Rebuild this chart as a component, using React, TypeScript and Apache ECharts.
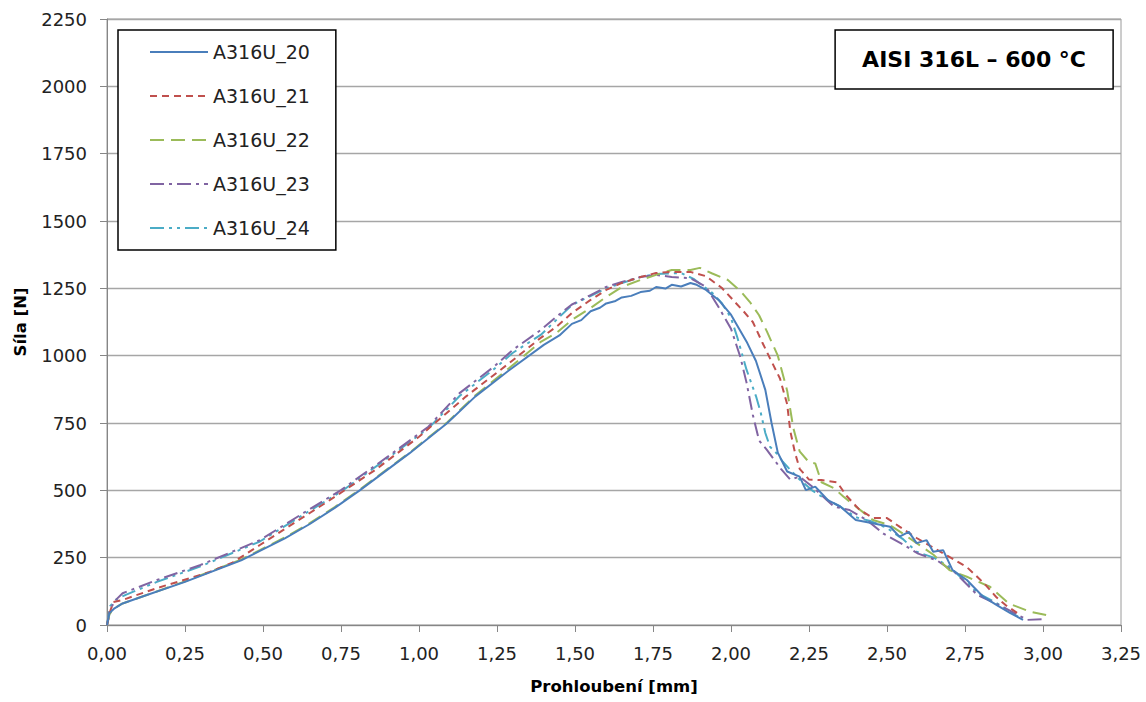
import React, { useEffect, useRef } from "react";
import * as echarts from "echarts";

const seriesNames = ["A316U_20", "A316U_21", "A316U_22", "A316U_23", "A316U_24"];
const seriesColors = ["#4A7EBB", "#C0504D", "#9BBB59", "#8064A2", "#4BACC6"];

const xTicks = { min: 0, max: 3.25, interval: 0.25 };
const yTicks = { min: 0, max: 2250, interval: 250 };

const a20: [number, number][] = [
  [0, 0], [0.008, 44], [0.024, 62], [0.05, 80], [0.1, 100], [0.25, 160], [0.43, 240], [0.49, 275],
  [0.57, 322], [0.65, 375], [0.73, 435], [0.81, 500], [0.97, 638], [1.09, 749], [1.18, 848], [1.29, 947], [1.4, 1040],
  [1.45, 1075], [1.49, 1118], [1.52, 1132], [1.55, 1165], [1.58, 1178], [1.6, 1194], [1.63, 1203],
  [1.65, 1216], [1.68, 1222], [1.71, 1236], [1.74, 1241], [1.76, 1255], [1.79, 1249], [1.81, 1263],
  [1.84, 1257], [1.87, 1270], [1.89, 1263], [1.92, 1244], [1.96, 1207], [2.0, 1152], [2.05, 1052],
  [2.08, 980], [2.11, 873], [2.13, 750], [2.15, 640], [2.18, 570], [2.22, 551], [2.24, 501],
  [2.27, 514], [2.31, 464], [2.35, 440], [2.4, 390], [2.45, 379], [2.51, 365], [2.54, 328],
  [2.57, 346], [2.595, 304], [2.627, 315], [2.648, 272], [2.68, 278], [2.71, 204], [2.756, 167],
  [2.808, 105], [2.852, 74], [2.894, 45], [2.936, 19],
];

const a21: [number, number][] = [
  [0, 0], [0.01, 50], [0.02, 85], [0.05, 93], [0.16, 137], [0.32, 193], [0.4, 230], [0.49, 297],
  [0.7, 453], [0.86, 576], [1.0, 699], [1.15, 848], [1.29, 973], [1.39, 1066], [1.44, 1107],
  [1.49, 1158], [1.55, 1207], [1.6, 1244], [1.65, 1270], [1.71, 1292], [1.76, 1307], [1.81, 1311],
  [1.87, 1311], [1.92, 1295], [1.97, 1252], [2.0, 1215], [2.04, 1165], [2.07, 1125], [2.1, 1050],
  [2.125, 990], [2.157, 915], [2.18, 820], [2.19, 720], [2.205, 640], [2.22, 580], [2.25, 540],
  [2.29, 538], [2.34, 530], [2.37, 480], [2.41, 430], [2.455, 397], [2.5, 397], [2.54, 365],
  [2.595, 323], [2.65, 286], [2.7, 253], [2.756, 215], [2.81, 156], [2.85, 104], [2.88, 74],
  [2.93, 35],
];

const a22: [number, number][] = [
  [0, 0], [0.008, 40], [0.024, 62], [0.05, 80], [0.1, 100], [0.25, 162], [0.43, 243], [0.49, 278],
  [0.57, 325], [0.65, 378], [0.73, 438], [0.81, 503], [0.97, 640], [1.09, 752], [1.18, 852], [1.29, 955], [1.39, 1051],
  [1.44, 1084], [1.49, 1133], [1.55, 1177], [1.6, 1218], [1.65, 1255], [1.71, 1281], [1.76, 1300],
  [1.81, 1318], [1.87, 1318], [1.9, 1326], [1.94, 1305], [1.99, 1281], [2.03, 1240], [2.06, 1200],
  [2.09, 1150], [2.115, 1090], [2.15, 1000], [2.18, 870], [2.2, 730], [2.22, 645], [2.25, 604],
  [2.27, 600], [2.29, 530], [2.33, 508], [2.36, 477], [2.4, 440], [2.455, 390], [2.51, 370],
  [2.55, 340], [2.595, 304], [2.65, 260], [2.7, 204], [2.756, 179], [2.83, 142], [2.89, 80],
  [2.96, 49], [3.01, 37],
];

const a23: [number, number][] = [
  [0, 0], [0.01, 60], [0.03, 95], [0.05, 118], [0.16, 167], [0.3, 223], [0.49, 315], [0.63, 416],
  [0.75, 501], [0.9, 625], [1.03, 736], [1.13, 861], [1.24, 959], [1.3, 1021], [1.39, 1095],
  [1.44, 1144], [1.49, 1190], [1.55, 1225], [1.6, 1255], [1.65, 1274], [1.71, 1292], [1.76, 1300],
  [1.81, 1292], [1.87, 1288], [1.92, 1255], [1.96, 1181], [2.0, 1100], [2.03, 995], [2.05, 899],
  [2.07, 780], [2.09, 685], [2.115, 650], [2.16, 580], [2.19, 540], [2.22, 551], [2.26, 514],
  [2.33, 440], [2.38, 427], [2.435, 390], [2.49, 338], [2.55, 300], [2.6, 265], [2.66, 240],
  [2.72, 193], [2.79, 111], [2.86, 74], [2.92, 37], [2.95, 19], [3.01, 22],
];

const a24: [number, number][] = [
  [0, 0], [0.01, 70], [0.03, 95], [0.06, 112], [0.16, 160], [0.3, 218], [0.49, 310], [0.63, 410],
  [0.75, 495], [0.9, 620], [1.03, 730], [1.13, 850], [1.24, 950], [1.3, 1010], [1.39, 1077],
  [1.49, 1188], [1.6, 1250], [1.71, 1292], [1.76, 1303], [1.84, 1307], [1.88, 1285], [1.94, 1233],
  [1.97, 1196], [2.0, 1140], [2.02, 1069], [2.05, 947], [2.08, 850], [2.095, 790], [2.11, 713],
  [2.125, 662], [2.146, 638], [2.166, 606], [2.19, 576], [2.22, 540], [2.26, 500], [2.3, 470],
  [2.35, 440], [2.4, 400], [2.45, 385], [2.5, 360], [2.55, 320], [2.595, 272], [2.65, 250],
  [2.7, 216], [2.79, 119], [2.85, 82], [2.92, 31],
];

const seriesData = [a20, a21, a22, a23, a24];
const dashTypes: any[] = ["solid", [7, 5], [14, 7], [14, 5, 3, 5], [14, 5, 3, 5, 3, 5]];

const FONT = "DejaVu Sans";

export default function App() {
  const ref = useRef<HTMLDivElement>(null);
  useEffect(() => {
    if (!ref.current) return;
    const chart = echarts.init(ref.current, undefined, { renderer: "svg" });
    chart.setOption({
      animation: false,
      backgroundColor: "#ffffff",
      textStyle: { fontFamily: FONT },
      title: {
        text: "AISI 316L – 600 °C",
        right: 33,
        top: 30,
        padding: [16, 27, 16, 27],
        borderColor: "#000000",
        borderWidth: 1.5,
        backgroundColor: "#ffffff",
        textStyle: { fontFamily: FONT, fontWeight: "bold", fontSize: 22, color: "#000", lineHeight: 27 },
      },
      legend: {
        orient: "vertical",
        left: 118,
        top: 30,
        padding: [11, 26, 11, 31],
        itemGap: 22,
        itemWidth: 58,
        itemHeight: 14,
        borderColor: "#000000",
        borderWidth: 1.5,
        backgroundColor: "#ffffff",
        itemStyle: { opacity: 0, borderWidth: 0 },
        textStyle: { fontFamily: FONT, fontSize: 19, color: "#222", lineHeight: 22 },
        data: seriesNames,
      },
      grid: {
        left: 107,
        right: 25,
        top: 19,
        bottom: 77,
        show: true,
        borderColor: "#9a9a9a",
        borderWidth: 1,
      },
      xAxis: {
        type: "value",
        min: xTicks.min,
        max: xTicks.max,
        interval: xTicks.interval,
        name: "Prohloubení [mm]",
        nameLocation: "middle",
        nameGap: 53,
        nameTextStyle: { fontFamily: FONT, fontWeight: "bold", fontSize: 16.5, color: "#000" },
        axisLine: { show: true, lineStyle: { color: "#868686", width: 1 } },
        axisTick: { show: true, length: 7, lineStyle: { color: "#868686" } },
        splitLine: { show: false },
        axisLabel: {
          margin: 19,
          fontFamily: FONT,
          fontSize: 18,
          color: "#222",
          formatter: (v: number) => v.toFixed(2).replace(".", ","),
        },
      },
      yAxis: {
        type: "value",
        min: yTicks.min,
        max: yTicks.max,
        interval: yTicks.interval,
        name: "Síla [N]",
        nameLocation: "middle",
        nameGap: 78,
        nameTextStyle: { fontFamily: FONT, fontWeight: "bold", fontSize: 16.5, color: "#000" },
        axisLine: { show: true, lineStyle: { color: "#868686", width: 1 } },
        axisTick: { show: true, length: 7, lineStyle: { color: "#868686" } },
        splitLine: { show: true, lineStyle: { color: "#a6a6a6", width: 1.3 } },
        axisLabel: {
          margin: 20,
          fontFamily: FONT,
          fontSize: 18,
          color: "#222",
          formatter: (v: number) => String(Math.round(v)),
        },
      },
      series: seriesNames.map((name, i) => ({
        name,
        type: "line",
        data: seriesData[i],
        symbol: "none",
        showSymbol: false,
        smooth: false,
        color: seriesColors[i],
        lineStyle: { color: seriesColors[i], width: 2, type: dashTypes[i] },
        z: 10 - i,
      })),
    });
    return () => chart.dispose();
  }, []);
  return (
    <div
      ref={ref}
      style={{ position: "fixed", left: 0, top: 0, width: 1146, height: 702, background: "#fff" }}
    />
  );
}
